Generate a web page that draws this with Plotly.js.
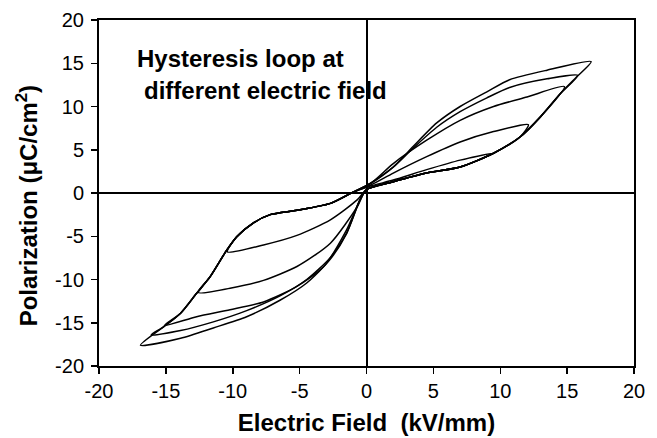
<!DOCTYPE html>
<html>
<head>
<meta charset="utf-8">
<script src="https://cdn.plot.ly/plotly-3.0.1.min.js"></script>
<style>html,body{margin:0;padding:0;background:#fff;}#chart{width:657px;height:438px;}</style>
</head>
<body>
<div id="chart"></div>
<script>
// Loop A (largest field, ~±17 kV/mm)
var loopAE = [0, 2, 4.5, 7, 9.5, 11.5, 13, 14.5, 15.7, 16.8, 13.5, 10.7, 9, 7, 5.25, 3.5, 2, 0.3, -1, -2.7, -5.2, -7.2, -8.5, -9.7, -10.45, -11.7, -12.7, -13.9, -15.2, -16.9, -13.9, -11.45, -8.96, -6.47, -4.47, -2.73, -1.48, -0.49, 0];
var loopAP = [0.4, 1.3, 2.3, 3.0, 4.6, 6.5, 8.8, 11.5, 13.4, 15.2, 14.2, 13.1, 11.7, 10.0, 8.1, 5.4, 3.0, 1.15, 0.1, -1.2, -2.0, -2.5, -3.5, -5.05, -6.6, -9.7, -11.6, -13.9, -15.5, -17.6, -16.8, -15.6, -14.3, -12.4, -10.4, -7.7, -4.66, -0.8, 0.4];
// Loop B (~±16 kV/mm)
var loopBE = [0, 2, 4.5, 7, 9.5, 11.5, 13, 14.5, 15.8, 13.5, 10.7, 9, 7, 5.25, 3.5, 2, 0.3, -1, -2.7, -5.2, -7.2, -8.5, -9.7, -10.45, -11.7, -12.7, -13.9, -15.2, -16.1, -13.9, -11.45, -8.96, -6.47, -4.47, -2.73, -1.48, -0.49, 0];
var loopBP = [0.4, 1.3, 2.3, 3.0, 4.6, 6.5, 8.8, 11.5, 13.6, 13.2, 12.2, 11.0, 9.4, 7.6, 5.2, 3.0, 1.1, 0.1, -1.2, -2.0, -2.5, -3.5, -5.05, -6.6, -9.7, -11.6, -13.9, -15.5, -16.4, -15.9, -14.9, -13.6, -11.9, -10.0, -7.5, -4.6, -0.8, 0.4];
// Loop C (~±15 kV/mm)
var loopCE = [0, 2, 4.5, 7, 9.5, 11.5, 13, 14.8, 12, 9.5, 7, 4.5, 2, 0.3, -1, -2.7, -5.2, -7.2, -8.5, -9.7, -10.45, -11.7, -12.7, -13.9, -15.1, -12.7, -10.2, -7.7, -5.2, -3.2, -1.5, -0.49, 0];
var loopCP = [0.4, 1.3, 2.3, 3.0, 4.6, 6.5, 8.8, 12.3, 11.1, 10.0, 8.4, 6.1, 3.4, 1.1, 0.1, -1.2, -2.0, -2.5, -3.5, -5.05, -6.6, -9.7, -11.6, -13.9, -15.3, -14.3, -13.5, -12.6, -10.8, -8.5, -4.3, -0.8, 0.4];
// Loop D (~±12.5 kV/mm)
var loopDE = [0, 2, 4.5, 7, 9.5, 11.5, 12.1, 9.5, 7, 4.5, 2, 0.3, -1, -2.7, -5.2, -7.2, -8.5, -9.7, -10.45, -11.7, -12.6, -10.2, -7.7, -5.2, -2.7, -0.7, 0];
var loopDP = [0.4, 1.3, 2.3, 3.0, 4.6, 6.5, 7.9, 7.1, 5.9, 4.2, 2.3, 0.9, 0.1, -1.2, -2.0, -2.5, -3.5, -5.05, -6.6, -9.7, -11.5, -11.0, -10.1, -8.5, -5.8, -1.6, 0.4];
// Loop E (~±10 kV/mm)
var loopEE = [0, 2, 4.5, 7, 9.5, 7, 4.5, 2, 0.3, -1, -2.7, -5.2, -7.2, -8.5, -9.7, -10.4, -7.7, -5.2, -2.7, -0.7, 0];
var loopEP = [0.4, 1.3, 2.3, 3.0, 4.6, 3.8, 2.7, 1.5, 0.8, 0.1, -1.2, -2.0, -2.5, -3.5, -5.05, -6.8, -6.0, -4.9, -3.1, -0.8, 0.4];

var tickVals = [-20, -15, -10, -5, 0, 5, 10, 15, 20];
var tickText = ['-20', '-15', '-10', '-5', '0', '5', '10', '15', '20'];

var loops = [[loopAE, loopAP], [loopBE, loopBP], [loopCE, loopCP], [loopDE, loopDP], [loopEE, loopEP]];
var FONT = 'Liberation Sans, Arial, Helvetica, sans-serif';

var traces = loops.map(function (l) {
  return {
    x: l[0], y: l[1], type: 'scatter', mode: 'lines',
    line: {color: '#000', width: 1.5, shape: 'spline', smoothing: 0.7},
    hoverinfo: 'skip', showlegend: false
  };
});

function axis(extra) {
  var a = {
    range: [-20, 20], autorange: false,
    tickmode: 'array', tickvals: tickVals, ticktext: tickText,
    ticks: 'outside', ticklen: 6, tickwidth: 1.5, tickcolor: '#000',
    showline: true, linecolor: '#000', linewidth: 2, mirror: true,
    zeroline: true, zerolinecolor: '#000', zerolinewidth: 2,
    showgrid: false, layer: 'above traces',
    tickfont: {family: FONT, size: 20, color: '#000'}
  };
  for (var k in extra) a[k] = extra[k];
  return a;
}

var layout = {
  width: 657, height: 438, autosize: false,
  margin: {l: 99, r: 23, t: 20, b: 72, pad: 0},
  paper_bgcolor: '#fff', plot_bgcolor: '#fff',
  showlegend: false,
  xaxis: axis({
    title: {text: 'Electric Field\u00a0 (kV/mm)', standoff: 13,
            font: {family: FONT, size: 24, color: '#000', weight: 'bold'}}
  }),
  yaxis: axis({ticklabelstandoff: 3}),
  annotations: [
    {text: 'Hysteresis loop at', xref: 'paper', yref: 'paper', x: 0.067, y: 0.89,
     xanchor: 'left', yanchor: 'middle', showarrow: false,
     font: {family: FONT, size: 24, color: '#000', weight: 'bold'}},
    {text: 'different electric field', xref: 'paper', yref: 'paper', x: 0.08, y: 0.797,
     xanchor: 'left', yanchor: 'middle', showarrow: false,
     font: {family: FONT, size: 24, color: '#000', weight: 'bold'}},
    {text: 'Polarization (\u03bcC/cm<sup>2</sup>)', xref: 'paper', yref: 'paper',
     x: -0.133, y: 0.464, xanchor: 'center', yanchor: 'middle', textangle: -90,
     showarrow: false, font: {family: FONT, size: 24, color: '#000', weight: 'bold'}}
  ]
};

Plotly.newPlot('chart', traces, layout, {staticPlot: true, displayModeBar: false});
</script>
</body>
</html>
